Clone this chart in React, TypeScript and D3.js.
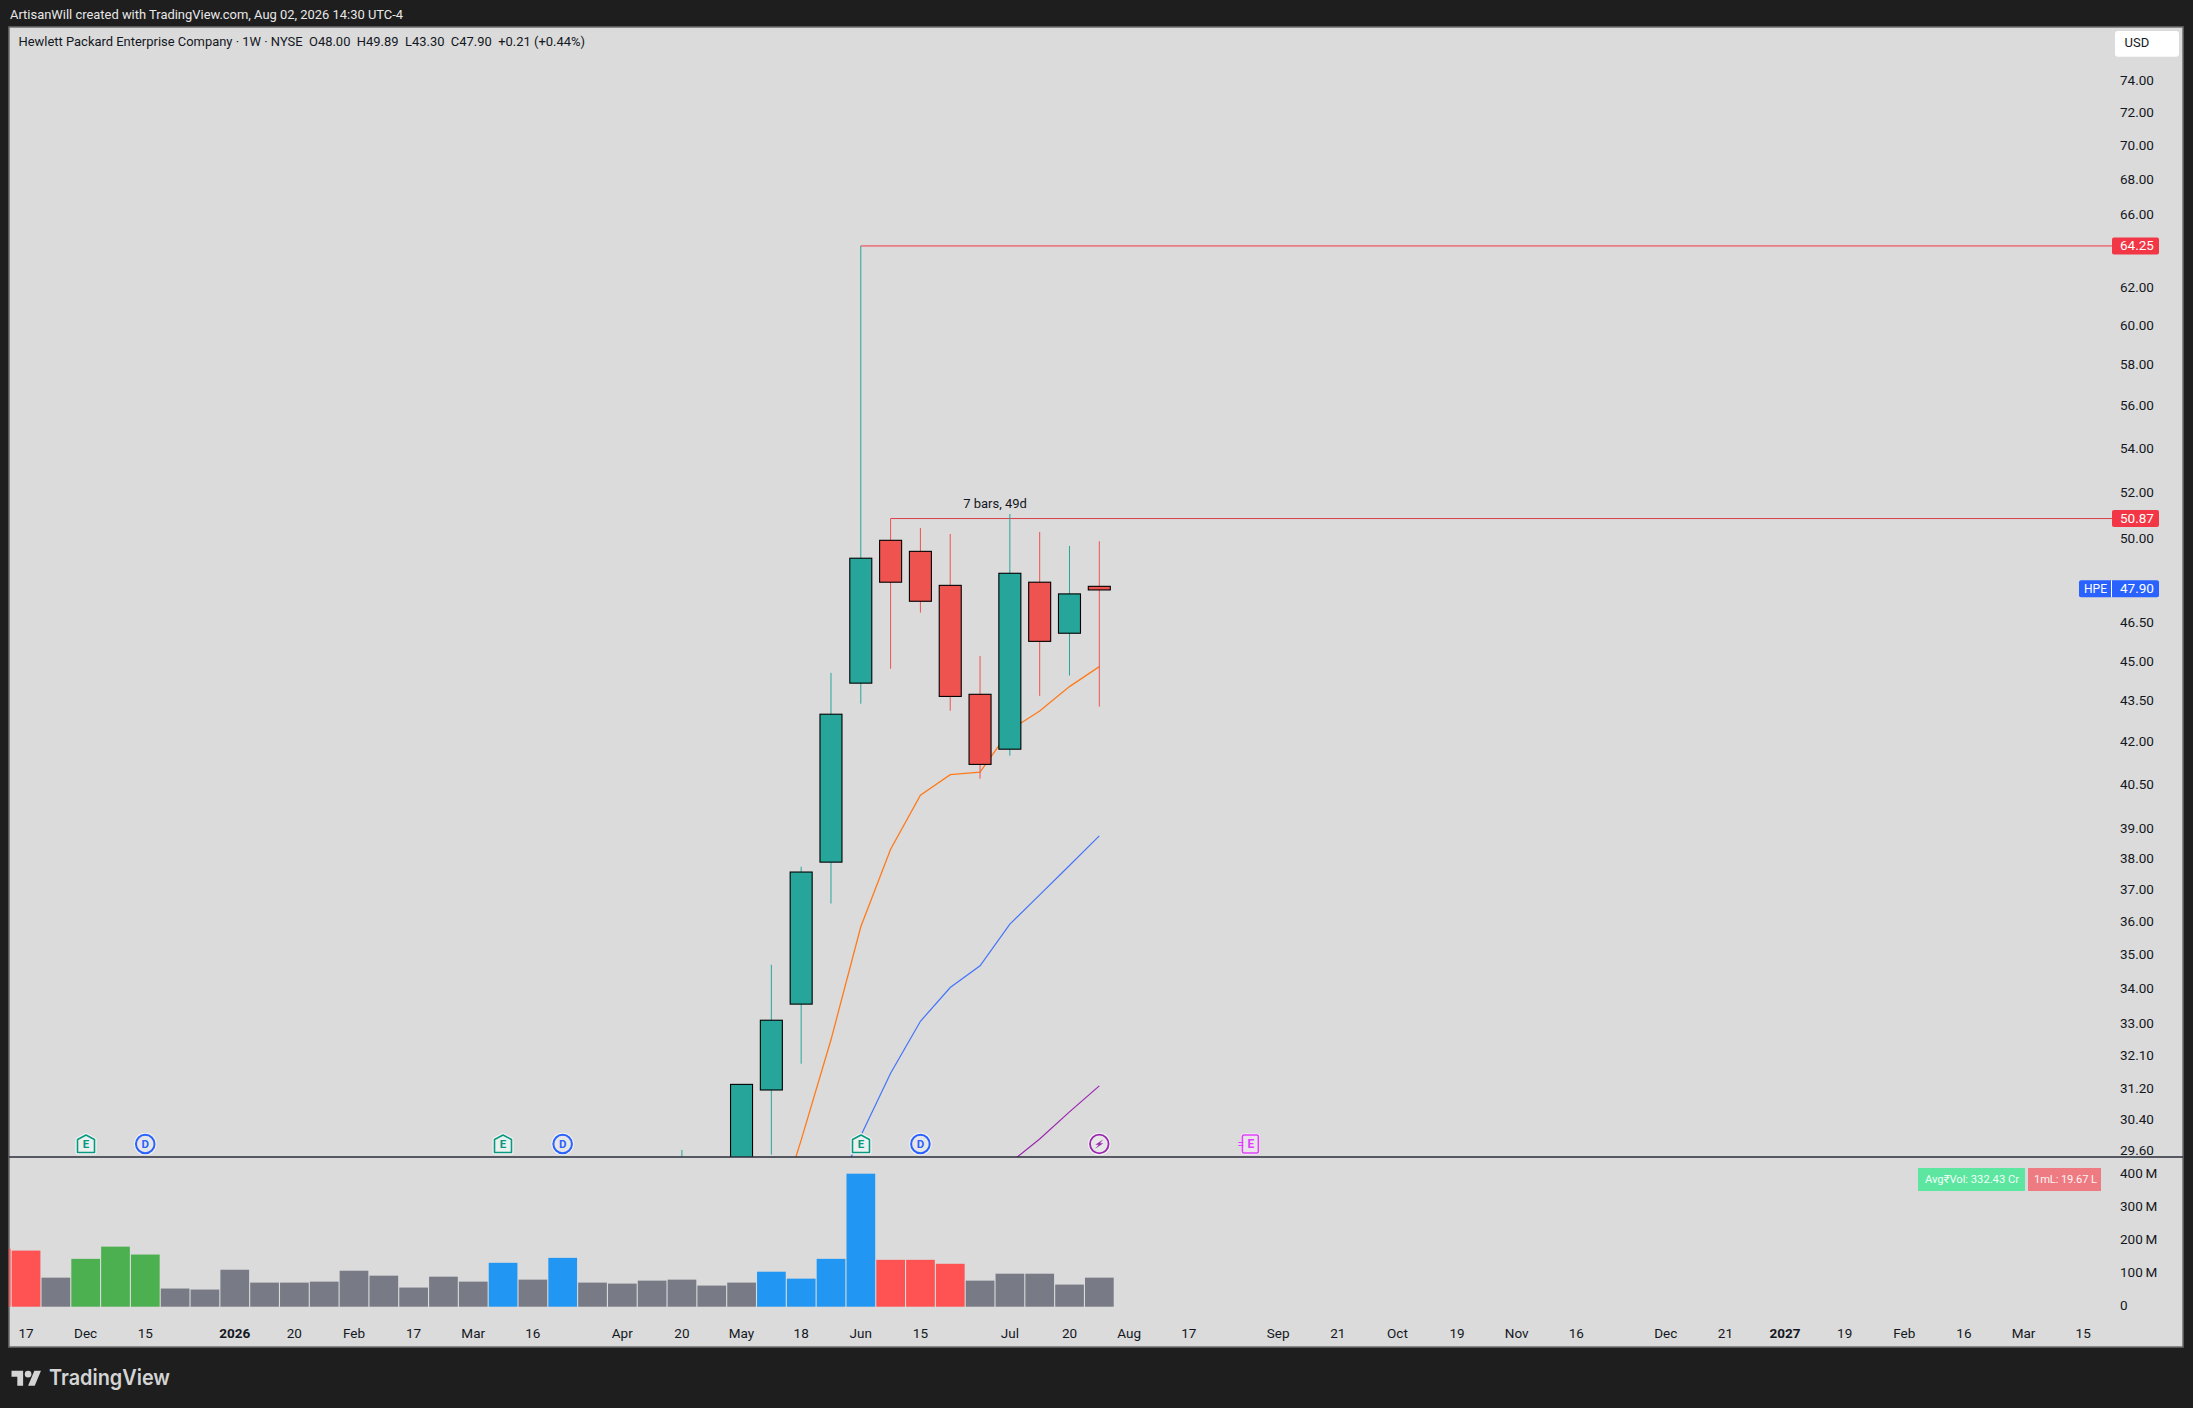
import React from "react";
import * as d3 from "d3";

const W = 2193, H = 1408;
const FONT = "Roboto, 'Liberation Sans', sans-serif";

// ---- data (week index 0 = 17 Nov 2025, 36 = 27 Jul 2026) ----
const volumeIdx = d3.range(-1, 37);
const volumeM = [176, 170, 88, 145, 182, 158, 55, 52, 112, 73, 73, 76, 109, 94, 58, 91, 76, 133, 82, 148, 73, 70, 79, 82, 64, 73, 106, 85, 145, 403, 142, 142, 130, 79, 100, 100, 67, 88];
const volumeKind = ["r", "r", "g", "e", "e", "e", "g", "g", "g", "g", "g", "g", "g", "g", "g", "g", "g", "b", "g", "b", "g", "g", "g", "g", "g", "g", "b", "b", "b", "b", "r", "r", "r", "g", "g", "g", "g", "g"];

const candleIdx = [22, 23, 24, 25, 26, 27, 28, 29, 30, 31, 32, 33, 34, 35, 36];
const opens = [26.5, 27.2, 28.4, 31.18, 33.56, 37.9, 44.18, 49.93, 49.46, 48.04, 43.76, 41.75, 48.17, 46.11, 48.0];
const highs = [29.62, 28.9, 31.33, 34.71, 37.75, 44.57, 64.25, 50.87, 50.46, 50.2, 45.22, 51.07, 50.29, 49.69, 49.89];
const lows = [25.8, 26.8, 27.9, 29.5, 31.89, 36.58, 43.41, 44.73, 46.93, 43.15, 40.71, 41.52, 43.7, 44.47, 43.3];
const closes = [27.2, 28.4, 31.33, 33.1, 37.58, 43.02, 49.17, 48.17, 47.39, 43.68, 41.21, 48.54, 45.79, 47.69, 47.9];

const maFastIdx = [25, 26, 27, 28, 29, 30, 31, 32, 33, 34, 35, 36];
const maFast = [27.53, 29.87, 32.55, 35.86, 38.32, 40.14, 40.85, 40.94, 42.43, 43.14, 44.05, 44.81];
const maMidIdx = [27, 28, 29, 30, 31, 32, 33, 34, 35, 36];
const maMid = [28.35, 29.98, 31.63, 33.07, 34.04, 34.68, 35.94, 36.85, 37.79, 38.76];
const maSlowIdx = [33, 34, 35, 36];
const maSlow = [29.29, 29.9, 30.6, 31.29];

const priceTicks = [74, 72, 70, 68, 66, 62, 60, 58, 56, 54, 52, 50, 46.5, 45, 43.5, 42, 40.5, 39, 38, 37, 36, 35, 34, 33, 32.1, 31.2, 30.4, 29.6];
const volumeTicks = [0, 100, 200, 300, 400];
const timeTickIdx = [0, 2, 4, 7, 9, 11, 13, 15, 17, 20, 22, 24, 26, 28, 30, 33, 35, 37, 39, 42, 44, 46, 48, 50, 52, 55, 57, 59, 61, 63, 65, 67, 69];
const timeTickLabels = ["17", "Dec", "15", "2026", "20", "Feb", "17", "Mar", "16", "Apr", "20", "May", "18", "Jun", "15", "Jul", "20", "Aug", "17", "Sep", "21", "Oct", "19", "Nov", "16", "Dec", "21", "2027", "19", "Feb", "16", "Mar", "15"];

const levelHigh = 64.25, levelHighStart = 28;
const levelLow = 50.87, levelLowStart = 29;
const lastPrice = 47.9;

const earningsIdx = [2, 16, 28];
const dividendIdx = [4, 18, 30];
const flashIdx = [36];
const nextEarningsIdx = [41];

// ---- scales ----
const plot = { l: 9, r: 2183, t: 27, b: 1347, sep: 1157 };
const x = d3.scaleLinear().domain([0, 36]).range([26, 1099.3]);
const yP = d3.scaleLog().domain([74, 29.6]).range([81, 1150.7]);
const yV = d3.scaleLinear().domain([0, 400]).range([1306.7, 1174.7]);

const UP = "#26A69A", DOWN = "#EF5350";
const volColor: Record<string, string> = { r: "#FF5252", g: "#787B86", e: "#4CAF50", b: "#2196F3" };
const TXT = "#131722";

function line(idx: number[], vals: number[]) {
  return d3.line<number>().x((_, i) => x(idx[i])).y((v) => yP(v))(vals) || "";
}

function PriceTag({ y, value, fill }: { y: number; value: string; fill: string }) {
  return (
    <g>
      <rect x={2112} y={y - 8.5} width={47} height={17} rx={2} fill={fill} />
      <text x={2120} y={y + 0.5} fontSize={13.5} fill="#fff" dominantBaseline="middle">{value}</text>
    </g>
  );
}

export default function App() {
  const clipId = "pricePane", clipAll = "allPane";
  const my = 1144;
  return (
    <svg width={W} height={H} viewBox={`0 0 ${W} ${H}`} style={{ position: "absolute", left: 0, top: 0, display: "block" }} fontFamily={FONT}>
      <defs>
        <clipPath id={clipId}><rect x={plot.l} y={plot.t} width={plot.r - plot.l} height={plot.sep - plot.t} /></clipPath>
        <clipPath id={clipAll}><rect x={plot.l} y={plot.sep} width={plot.r - plot.l} height={plot.b - plot.sep} /></clipPath>
      </defs>
      <rect width={W} height={H} fill="#1E1E1E" />
      <rect x={plot.l} y={plot.t} width={plot.r - plot.l} height={plot.b - plot.t} fill="#DBDBDB" stroke="#6E6E6E" strokeWidth={1.5} />
      <text x={10} y={16} fontSize={12.93} fill="#E8E8E8" dominantBaseline="middle">ArtisanWill created with TradingView.com, Aug 02, 2026 14:30 UTC-4</text>
      <text x={18.5} y={43} fontSize={12.95} fill={TXT} dominantBaseline="middle" xmlSpace="preserve">Hewlett Packard Enterprise Company · 1W · NYSE  O48.00  H49.89  L43.30  C47.90  +0.21 (+0.44%)</text>

      {/* price pane */}
      <g clipPath={`url(#${clipId})`}>
        <path d={line(maSlowIdx, maSlow)} fill="none" stroke="#9C27B0" strokeWidth={1.2} />
        <path d={line(maMidIdx, maMid)} fill="none" stroke="#2962FF" strokeWidth={1.2} opacity={0.85} />
        <path d={line(maFastIdx, maFast)} fill="none" stroke="#FF7A1A" strokeWidth={1.3} />
        <line x1={x(levelHighStart)} x2={2112} y1={yP(levelHigh)} y2={yP(levelHigh)} stroke="#F23645" strokeWidth={1} />
        <line x1={x(levelLowStart)} x2={2112} y1={yP(levelLow)} y2={yP(levelLow)} stroke="#DB3F4B" strokeWidth={1} />
        {candleIdx.map((d, i) => {
          const up = closes[i] >= opens[i];
          const c = up ? UP : DOWN;
          const top = yP(Math.max(opens[i], closes[i]));
          const bot = yP(Math.min(opens[i], closes[i]));
          const h = Math.max(bot - top, 3.6);
          return (
            <g key={d}>
              <line x1={x(d)} x2={x(d)} y1={yP(highs[i])} y2={yP(lows[i])} stroke={c} strokeWidth={1} />
              <rect x={x(d) - 11} y={top} width={22} height={h} fill={c} stroke="#000" strokeWidth={1.1} />
            </g>
          );
        })}
      </g>
      <text x={995} y={504.5} fontSize={13} fill={TXT} textAnchor="middle" dominantBaseline="middle">7 bars, 49d</text>

      {/* price axis */}
      {priceTicks.map((t) => (
        <text key={t} x={2120} y={yP(t) + 0.5} fontSize={13.5} fill={TXT} dominantBaseline="middle">{t.toFixed(2)}</text>
      ))}
      <rect x={2115} y={31} width={64} height={25.7} rx={3} fill="#fff" />
      <text x={2124.5} y={44} fontSize={13} fill={TXT} dominantBaseline="middle">USD</text>
      <PriceTag y={yP(levelHigh)} value={levelHigh.toFixed(2)} fill="#F23645" />
      <PriceTag y={yP(levelLow)} value={levelLow.toFixed(2)} fill="#F23645" />
      <rect x={2079} y={yP(lastPrice) - 8.5} width={80} height={17} rx={2} fill="#2962FF" />
      <line x1={2111.5} x2={2111.5} y1={yP(lastPrice) - 8.5} y2={yP(lastPrice) + 8.5} stroke="#fff" />
      <text x={2084} y={yP(lastPrice) + 0.5} fontSize={13} fill="#fff" dominantBaseline="middle" textLength={23} lengthAdjust="spacingAndGlyphs">HPE</text>
      <text x={2120} y={yP(lastPrice) + 0.5} fontSize={13.5} fill="#fff" dominantBaseline="middle">{lastPrice.toFixed(2)}</text>

      {/* markers */}
      {earningsIdx.map((d) => {
        const cx = Math.round(x(d));
        const p = `M${cx} ${my - 9} L${cx + 8.5} ${my - 4.5} V${my + 8.5} H${cx - 8.5} V${my - 4.5} Z`;
        return (
          <g key={d}>
            <path d={p} fill="#EAF1EF" stroke="#F4F4F4" strokeWidth={4} strokeLinejoin="round" />
            <path d={p} fill="#EAF1EF" stroke="#089981" strokeWidth={1.6} strokeLinejoin="round" />
            <text x={cx} y={my + 1} fontSize={11.5} fontWeight={700} fill="#089981" textAnchor="middle" dominantBaseline="middle">E</text>
          </g>
        );
      })}
      {dividendIdx.map((d) => (
        <g key={d}>
          <circle cx={x(d)} cy={my} r={10.5} fill="#E6E6E6" stroke="#F4F4F4" strokeWidth={1.5} />
          <circle cx={x(d)} cy={my} r={9.3} fill="#E6E6E6" stroke="#2962FF" strokeWidth={2} />
          <text x={x(d)} y={my + 0.5} fontSize={11.5} fontWeight={700} fill="#2962FF" textAnchor="middle" dominantBaseline="middle">D</text>
        </g>
      ))}
      {flashIdx.map((d) => (
        <g key={d}>
          <circle cx={x(d)} cy={my} r={10.5} fill="#E6E6E6" stroke="#F4F4F4" strokeWidth={1.5} />
          <circle cx={x(d)} cy={my} r={9.3} fill="#E6E6E6" stroke="#9C27B0" strokeWidth={1.8} />
          <path d={`M${x(d) + 4.2} ${my - 4.8} L${x(d) - 4} ${my + 0.8} L${x(d) - 0.6} ${my + 0.8} L${x(d) - 4.2} ${my + 4.8} L${x(d) + 4} ${my - 0.8} L${x(d) + 0.6} ${my - 0.8} Z`} fill="#9C27B0" />
        </g>
      ))}
      {nextEarningsIdx.map((d) => (
        <g key={d}>
          <rect x={x(d) - 6} y={my - 9} width={16} height={18} rx={1.5} fill="#E9E4EA" stroke="#F4F4F4" strokeWidth={3} />
          <rect x={x(d) - 6} y={my - 9} width={16} height={18} rx={1.5} fill="#E9E4EA" stroke="#E040FB" strokeWidth={1.6} />
          <path d={`M${x(d) - 10} ${my - 1.5} h5 M${x(d) - 10} ${my + 1.5} h5`} stroke="#E040FB" strokeWidth={1.2} fill="none" />
          <text x={x(d) + 2.5} y={my + 1} fontSize={12} fontWeight={700} fill="#E040FB" textAnchor="middle" dominantBaseline="middle">E</text>
        </g>
      ))}

      {/* separator */}
      <line x1={plot.l} x2={plot.r} y1={plot.sep} y2={plot.sep} stroke="#2A2E39" strokeWidth={1.3} />

      {/* volume */}
      <g clipPath={`url(#${clipAll})`}>
        {volumeIdx.map((d, i) => (
          <rect key={d} x={x(d) - 14.3} y={yV(volumeM[i])} width={28.7} height={yV(0) - yV(volumeM[i])} fill={volColor[volumeKind[i]]} />
        ))}
      </g>
      {volumeTicks.map((t) => (
        <text key={t} x={2120} y={yV(t)} fontSize={13.5} fill={TXT} dominantBaseline="middle" dy={-0.3}>{t === 0 ? "0" : `${t}\u2009M`}</text>
      ))}
      <rect x={1918} y={1168} width={107} height={23} fill="#5CE6A0" />
      <text x={1925} y={1180} fontSize={11.2} fill="#F2FFF8" dominantBaseline="middle" textLength={94} lengthAdjust="spacing">Avg₹Vol: 332.43 Cr</text>
      <rect x={2028} y={1168} width={73} height={23} fill="#EE7A82" />
      <text x={2034} y={1180} fontSize={11.2} fill="#FFF4F4" dominantBaseline="middle" textLength={63} lengthAdjust="spacing">1mL: 19.67 L</text>

      {/* time axis */}
      {timeTickIdx.map((d, i) => {
        const lab = timeTickLabels[i];
        const yr = lab.length === 4;
        return (
          <text key={d} x={x(d)} y={1334.5} fontSize={13.5} fontWeight={yr ? 700 : 400} fill={TXT} textAnchor="middle" dominantBaseline="middle">{lab}</text>
        );
      })}

      {/* footer logo */}
      <g transform="translate(11.5 1367.5) scale(0.83)" fill="#D4D4D4">
        <path d="M14 22H7V11H0V4h14v18zM28 22h-8l7.5-18h8L28 22z" />
        <circle cx={20} cy={8} r={4} />
      </g>
      <text x={49} y={1379.5} fontSize={21.5} fontWeight={600} fontFamily="Inter, Roboto, sans-serif" fill="#D4D4D4" dominantBaseline="middle" textLength={121} lengthAdjust="spacingAndGlyphs">TradingView</text>
    </svg>
  );
}
